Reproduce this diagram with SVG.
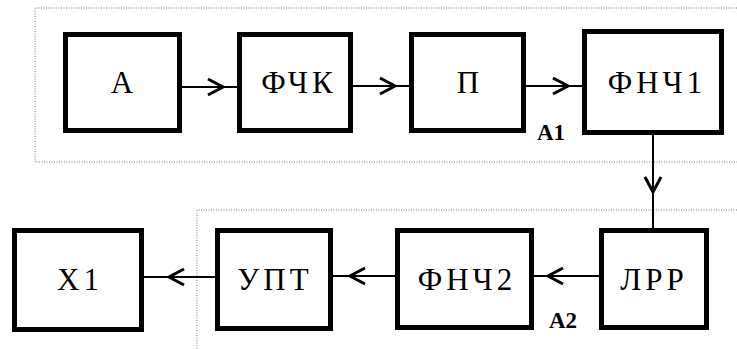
<svg xmlns="http://www.w3.org/2000/svg" width="737" height="349" viewBox="0 0 737 349">
<style>
text{font-family:"Liberation Serif","Times New Roman",serif;fill:#000}
.box{fill:#fff;stroke:#000;stroke-width:5}
.lbl{font-size:31px;text-anchor:middle;letter-spacing:4px}
.grp{font-size:23px;font-weight:bold}
.con{fill:none;stroke:#000;stroke-width:2;marker-mid:url(#chev)}
.dot{fill:none;stroke:#777;stroke-width:1;stroke-dasharray:1 1.5}
</style>
<defs>
<marker id="chev" markerUnits="userSpaceOnUse" orient="auto" refX="0" refY="0" markerWidth="20" markerHeight="20" overflow="visible">
<path d="M -15 -8 L 0 0 L -15 8" fill="none" stroke="#000" stroke-width="3"/>
</marker>
</defs>
<rect width="737" height="349" fill="#fff"/>
<g id="frames">
<path class="dot" d="M737 8 L35 8 L35 162 L737 162"/>
<path class="dot" d="M737 210 L197 210 L197 349"/>
<text class="grp" x="537" y="140">A1</text>
<text class="grp" x="549" y="328">A2</text>
</g>
<g id="connectors">
<path class="con" d="M182 87 L223 87 L237 87"/>
<path class="con" d="M353 86 L395 86 L409 86"/>
<path class="con" d="M526 86 L568 86 L582 86"/>
<path class="con" d="M653 135 L653 192 L653 228"/>
<path class="con" d="M599 276 L548 276 L534 276"/>
<path class="con" d="M395 276 L350 276 L333 276"/>
<path class="con" d="M215 277 L169 277 L144 277"/>
</g>
<g id="node-A"><rect class="box" x="65.5" y="34.5" width="114" height="96"/><text class="lbl" x="124" y="93">A</text></g>
<g id="node-FChK"><rect class="box" x="239.5" y="34.5" width="111" height="96"/><text class="lbl" x="299" y="93">ФЧК</text></g>
<g id="node-P"><rect class="box" x="411.5" y="34.5" width="112" height="96"/><text class="lbl" x="470" y="93">П</text></g>
<g id="node-FNCh1"><rect class="box" x="584.5" y="31.5" width="137" height="101"/><text class="lbl" x="657" y="93">ФНЧ1</text></g>
<g id="node-LRR"><rect class="box" x="601.5" y="230.5" width="105" height="97"/><text class="lbl" x="654" y="290">ЛРР</text></g>
<g id="node-FNCh2"><rect class="box" x="397.5" y="230.5" width="134" height="97"/><text class="lbl" x="467" y="290">ФНЧ2</text></g>
<g id="node-UPT"><rect class="box" x="217.5" y="230.5" width="113" height="98"/><text class="lbl" x="275" y="290">УПТ</text></g>
<g id="node-X1"><rect class="box" x="14.5" y="230.5" width="127" height="99"/><text class="lbl" x="80" y="290">X1</text></g>
</svg>
